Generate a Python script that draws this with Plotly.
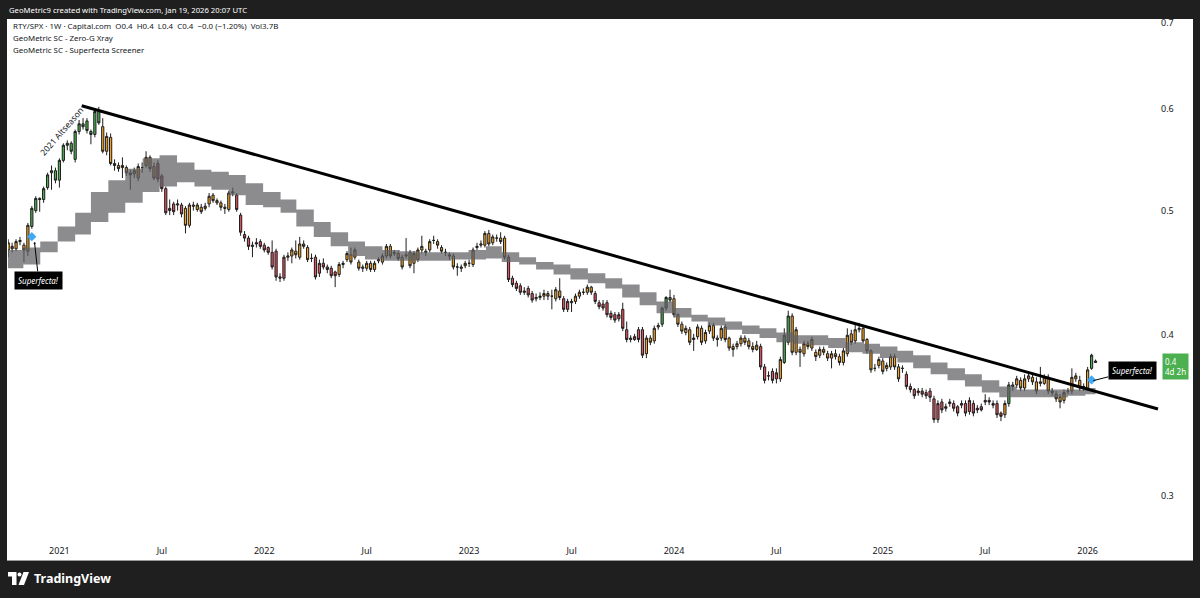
import numpy as np
import pandas as pd
import plotly.graph_objects as go

# ---------------- data (weekly RTY/SPX candles) ----------------
FIRST_WEEK = "2020-10-05"

opens = [
    0.466, 0.469, 0.467, 0.473, 0.470, 0.465, 0.486, 0.500, 0.511, 0.510,
    0.521, 0.535, 0.537, 0.528, 0.547, 0.562, 0.564, 0.548, 0.576, 0.584,
    0.587, 0.576, 0.573, 0.597, 0.581, 0.556, 0.570, 0.544, 0.542, 0.540,
    0.540, 0.535, 0.534, 0.530, 0.540, 0.542, 0.550, 0.541, 0.544, 0.532,
    0.520, 0.502, 0.506, 0.505, 0.505, 0.502, 0.487, 0.505, 0.501, 0.503,
    0.502, 0.506, 0.514, 0.509, 0.507, 0.503, 0.501, 0.516, 0.514, 0.496,
    0.479, 0.476, 0.470, 0.471, 0.473, 0.470, 0.468, 0.464, 0.465, 0.443,
    0.443, 0.460, 0.461, 0.465, 0.460, 0.471, 0.468, 0.459, 0.460, 0.447,
    0.455, 0.452, 0.451, 0.448, 0.446, 0.454, 0.458, 0.462, 0.460, 0.456,
    0.452, 0.451, 0.455, 0.450, 0.457, 0.456, 0.461, 0.469, 0.463, 0.463,
    0.460, 0.461, 0.464, 0.455, 0.458, 0.466, 0.465, 0.466, 0.474, 0.473,
    0.468, 0.464, 0.462, 0.461, 0.452, 0.452, 0.453, 0.455, 0.454, 0.468,
    0.470, 0.470, 0.480, 0.472, 0.476, 0.476, 0.476, 0.460, 0.443, 0.439,
    0.437, 0.433, 0.435, 0.431, 0.427, 0.428, 0.429, 0.431, 0.429, 0.427,
    0.433, 0.427, 0.419, 0.424, 0.425, 0.429, 0.432, 0.432, 0.436, 0.431,
    0.424, 0.423, 0.424, 0.416, 0.415, 0.412, 0.419, 0.404, 0.398, 0.397,
    0.404, 0.404, 0.387, 0.398, 0.396, 0.406, 0.408, 0.420, 0.428, 0.427,
    0.415, 0.408, 0.402, 0.404, 0.397, 0.399, 0.405, 0.396, 0.403, 0.407,
    0.398, 0.398, 0.406, 0.398, 0.392, 0.392, 0.394, 0.398, 0.396, 0.392,
    0.390, 0.392, 0.378, 0.372, 0.375, 0.370, 0.370, 0.381, 0.395, 0.414,
    0.388, 0.390, 0.387, 0.394, 0.391, 0.388, 0.386, 0.390, 0.387, 0.384,
    0.387, 0.385, 0.381, 0.387, 0.401, 0.396, 0.404, 0.405, 0.397, 0.389,
    0.377, 0.379, 0.382, 0.377, 0.378, 0.385, 0.378, 0.377, 0.373, 0.365,
    0.363, 0.361, 0.362, 0.361, 0.362, 0.357, 0.344, 0.355, 0.351, 0.354,
    0.354, 0.352, 0.353, 0.354, 0.349, 0.354, 0.350, 0.352, 0.355, 0.356,
    0.354, 0.354, 0.348, 0.347, 0.354, 0.366, 0.366, 0.369, 0.364, 0.370,
    0.371, 0.368, 0.367, 0.367, 0.371, 0.362, 0.360, 0.358, 0.356, 0.362,
    0.362, 0.370, 0.369, 0.364, 0.364, 0.377, 0.382,
]
highs = [
    0.475, 0.472, 0.475, 0.477, 0.472, 0.489, 0.504, 0.513, 0.512, 0.522,
    0.535, 0.542, 0.540, 0.549, 0.564, 0.567, 0.566, 0.578, 0.588, 0.590,
    0.590, 0.578, 0.600, 0.602, 0.590, 0.575, 0.574, 0.548, 0.545, 0.550,
    0.542, 0.538, 0.540, 0.544, 0.545, 0.556, 0.552, 0.545, 0.547, 0.534,
    0.522, 0.510, 0.508, 0.510, 0.507, 0.504, 0.507, 0.508, 0.507, 0.506,
    0.507, 0.516, 0.516, 0.511, 0.509, 0.506, 0.518, 0.521, 0.516, 0.498,
    0.482, 0.478, 0.473, 0.476, 0.475, 0.472, 0.469, 0.474, 0.467, 0.447,
    0.462, 0.464, 0.468, 0.474, 0.477, 0.474, 0.470, 0.463, 0.462, 0.458,
    0.459, 0.454, 0.453, 0.449, 0.456, 0.457, 0.465, 0.468, 0.468, 0.458,
    0.454, 0.457, 0.457, 0.457, 0.460, 0.463, 0.471, 0.471, 0.466, 0.465,
    0.462, 0.476, 0.466, 0.465, 0.468, 0.478, 0.467, 0.475, 0.478, 0.475,
    0.470, 0.467, 0.464, 0.463, 0.455, 0.454, 0.457, 0.458, 0.468, 0.472,
    0.474, 0.482, 0.483, 0.479, 0.479, 0.481, 0.478, 0.462, 0.445, 0.441,
    0.439, 0.436, 0.437, 0.433, 0.431, 0.432, 0.434, 0.433, 0.434, 0.436,
    0.443, 0.429, 0.427, 0.427, 0.431, 0.434, 0.435, 0.438, 0.437, 0.433,
    0.426, 0.426, 0.426, 0.418, 0.417, 0.417, 0.424, 0.410, 0.400, 0.401,
    0.406, 0.406, 0.400, 0.400, 0.407, 0.409, 0.421, 0.429, 0.434, 0.430,
    0.416, 0.410, 0.407, 0.406, 0.401, 0.408, 0.407, 0.404, 0.409, 0.409,
    0.400, 0.407, 0.408, 0.399, 0.394, 0.396, 0.400, 0.400, 0.398, 0.395,
    0.396, 0.394, 0.380, 0.375, 0.377, 0.377, 0.385, 0.405, 0.418, 0.416,
    0.406, 0.392, 0.396, 0.396, 0.399, 0.390, 0.392, 0.392, 0.389, 0.389,
    0.390, 0.387, 0.391, 0.405, 0.404, 0.408, 0.409, 0.407, 0.398, 0.390,
    0.380, 0.385, 0.384, 0.381, 0.387, 0.387, 0.380, 0.379, 0.375, 0.367,
    0.364, 0.364, 0.364, 0.363, 0.364, 0.359, 0.356, 0.357, 0.354, 0.357,
    0.356, 0.353, 0.356, 0.356, 0.358, 0.356, 0.353, 0.354, 0.360, 0.358,
    0.356, 0.356, 0.349, 0.356, 0.368, 0.368, 0.372, 0.371, 0.373, 0.374,
    0.373, 0.371, 0.378, 0.373, 0.373, 0.364, 0.362, 0.360, 0.363, 0.364,
    0.377, 0.374, 0.372, 0.367, 0.378, 0.387, 0.383,
]
lows = [
    0.460, 0.464, 0.465, 0.470, 0.456, 0.461, 0.484, 0.498, 0.499, 0.507,
    0.519, 0.519, 0.525, 0.521, 0.545, 0.557, 0.553, 0.545, 0.573, 0.578,
    0.574, 0.563, 0.570, 0.583, 0.554, 0.552, 0.542, 0.537, 0.536, 0.530,
    0.532, 0.519, 0.530, 0.527, 0.535, 0.540, 0.536, 0.528, 0.526, 0.517,
    0.496, 0.496, 0.496, 0.500, 0.494, 0.480, 0.485, 0.500, 0.499, 0.497,
    0.500, 0.503, 0.507, 0.505, 0.500, 0.497, 0.499, 0.513, 0.499, 0.478,
    0.473, 0.466, 0.460, 0.468, 0.467, 0.464, 0.462, 0.450, 0.441, 0.440,
    0.441, 0.457, 0.455, 0.459, 0.458, 0.467, 0.456, 0.456, 0.442, 0.444,
    0.450, 0.447, 0.443, 0.436, 0.444, 0.451, 0.456, 0.454, 0.458, 0.449,
    0.448, 0.449, 0.448, 0.448, 0.455, 0.454, 0.459, 0.459, 0.461, 0.457,
    0.450, 0.459, 0.451, 0.447, 0.456, 0.463, 0.461, 0.464, 0.471, 0.467,
    0.463, 0.461, 0.458, 0.450, 0.445, 0.448, 0.451, 0.452, 0.452, 0.466,
    0.468, 0.468, 0.469, 0.470, 0.473, 0.471, 0.458, 0.440, 0.436, 0.433,
    0.430, 0.430, 0.428, 0.424, 0.425, 0.426, 0.426, 0.426, 0.419, 0.425,
    0.426, 0.417, 0.417, 0.417, 0.423, 0.427, 0.430, 0.430, 0.430, 0.423,
    0.419, 0.418, 0.413, 0.411, 0.409, 0.410, 0.403, 0.395, 0.395, 0.396,
    0.395, 0.384, 0.384, 0.393, 0.394, 0.404, 0.406, 0.418, 0.424, 0.413,
    0.406, 0.401, 0.400, 0.393, 0.389, 0.397, 0.393, 0.394, 0.401, 0.396,
    0.392, 0.396, 0.395, 0.389, 0.385, 0.390, 0.392, 0.393, 0.390, 0.388,
    0.389, 0.376, 0.367, 0.369, 0.367, 0.367, 0.368, 0.380, 0.393, 0.386,
    0.386, 0.378, 0.385, 0.390, 0.389, 0.382, 0.384, 0.386, 0.382, 0.377,
    0.383, 0.379, 0.379, 0.385, 0.393, 0.394, 0.402, 0.394, 0.387, 0.374,
    0.375, 0.377, 0.373, 0.375, 0.376, 0.376, 0.368, 0.374, 0.363, 0.361,
    0.357, 0.359, 0.358, 0.357, 0.355, 0.342, 0.342, 0.348, 0.349, 0.352,
    0.349, 0.346, 0.351, 0.346, 0.347, 0.346, 0.348, 0.349, 0.353, 0.353,
    0.351, 0.345, 0.343, 0.345, 0.352, 0.362, 0.364, 0.362, 0.362, 0.368,
    0.366, 0.360, 0.365, 0.366, 0.360, 0.359, 0.355, 0.351, 0.354, 0.360,
    0.360, 0.368, 0.362, 0.362, 0.362, 0.376, 0.381,
]
closes = [
    0.472, 0.467, 0.473, 0.474, 0.466, 0.487, 0.502, 0.511, 0.510, 0.520,
    0.533, 0.537, 0.528, 0.547, 0.562, 0.564, 0.556, 0.576, 0.584, 0.581,
    0.577, 0.573, 0.597, 0.585, 0.556, 0.571, 0.544, 0.542, 0.539, 0.542,
    0.535, 0.533, 0.537, 0.541, 0.540, 0.550, 0.539, 0.530, 0.529, 0.520,
    0.498, 0.500, 0.499, 0.506, 0.497, 0.487, 0.505, 0.504, 0.505, 0.499,
    0.504, 0.513, 0.509, 0.507, 0.503, 0.502, 0.516, 0.517, 0.501, 0.481,
    0.476, 0.469, 0.469, 0.472, 0.469, 0.466, 0.464, 0.452, 0.444, 0.444,
    0.460, 0.461, 0.466, 0.462, 0.471, 0.469, 0.458, 0.459, 0.444, 0.455,
    0.452, 0.450, 0.445, 0.445, 0.454, 0.455, 0.463, 0.456, 0.466, 0.451,
    0.451, 0.455, 0.450, 0.455, 0.458, 0.461, 0.469, 0.461, 0.464, 0.459,
    0.452, 0.462, 0.453, 0.463, 0.466, 0.469, 0.464, 0.473, 0.474, 0.470,
    0.465, 0.464, 0.461, 0.452, 0.452, 0.451, 0.455, 0.455, 0.466, 0.469,
    0.471, 0.480, 0.471, 0.477, 0.476, 0.473, 0.460, 0.442, 0.438, 0.435,
    0.432, 0.432, 0.430, 0.426, 0.428, 0.429, 0.431, 0.429, 0.429, 0.434,
    0.428, 0.419, 0.425, 0.425, 0.429, 0.432, 0.432, 0.436, 0.432, 0.425,
    0.421, 0.420, 0.415, 0.413, 0.411, 0.415, 0.405, 0.397, 0.397, 0.399,
    0.397, 0.386, 0.398, 0.395, 0.405, 0.407, 0.420, 0.428, 0.426, 0.415,
    0.408, 0.403, 0.405, 0.395, 0.398, 0.406, 0.395, 0.402, 0.407, 0.398,
    0.397, 0.405, 0.397, 0.391, 0.390, 0.394, 0.398, 0.395, 0.392, 0.390,
    0.393, 0.378, 0.369, 0.372, 0.369, 0.374, 0.383, 0.400, 0.414, 0.388,
    0.404, 0.388, 0.394, 0.392, 0.397, 0.385, 0.390, 0.388, 0.384, 0.387,
    0.385, 0.381, 0.389, 0.400, 0.395, 0.404, 0.405, 0.396, 0.389, 0.376,
    0.377, 0.383, 0.375, 0.379, 0.385, 0.378, 0.370, 0.377, 0.365, 0.363,
    0.359, 0.362, 0.360, 0.359, 0.358, 0.344, 0.354, 0.350, 0.352, 0.355,
    0.351, 0.348, 0.354, 0.348, 0.356, 0.348, 0.351, 0.350, 0.356, 0.355,
    0.353, 0.347, 0.346, 0.354, 0.366, 0.365, 0.370, 0.364, 0.370, 0.372,
    0.368, 0.362, 0.368, 0.371, 0.362, 0.361, 0.357, 0.355, 0.361, 0.362,
    0.371, 0.372, 0.364, 0.365, 0.376, 0.386, 0.381,
]
# indicator state that colours each candle: g = bullish, o = neutral, r = bearish
candle_state = (
    "oooooo" "gggggggggggggggggg" "oooooooooooooo" "rrrrrrr" "ooooo"
    "oooooooo" "rrrrrrrrrrrrr" "ooooooo" "rrrrrr" "oooooooooooooooo"
    "ooooooooooooooooooooooooooo" "rrrrrrr" "ooooooo" "rrr" "ooooo" "r"
    "rrrrrrrrrrrr" "oooo" "ggg" "oooooooooooooooooooooo" "rrrrr" "o" "gg" "o"
    "oooooooooooooooooooooooooooo" "rrrrrrrrrrrrrrrrrrrrrr"
    "rrr" "o" "g" "oooooooooooooooooooo" "gg"
)

# Zero-G Xray cloud (monthly steps)
cloud_start_month = "2020-10-01"
cloud_upper = [
    0.466, 0.468, 0.473, 0.486, 0.498, 0.517, 0.528, 0.539, 0.549, 0.552,
    0.545, 0.538, 0.536, 0.533, 0.525, 0.517, 0.510, 0.501, 0.490, 0.481,
    0.473, 0.469, 0.466, 0.465, 0.464, 0.464, 0.464, 0.466, 0.469, 0.464,
    0.460, 0.456, 0.454, 0.451, 0.447, 0.443, 0.438, 0.432, 0.425, 0.420,
    0.415, 0.413, 0.410, 0.407, 0.405, 0.402, 0.400, 0.400, 0.398, 0.395,
    0.394, 0.392, 0.389, 0.386, 0.381, 0.377, 0.373, 0.369, 0.365, 0.363,
    0.363, 0.363, 0.363, 0.364,
]
cloud_lower = [
    0.451, 0.454, 0.464, 0.473, 0.479, 0.490, 0.498, 0.507, 0.517, 0.522,
    0.526, 0.522, 0.519, 0.514, 0.505, 0.503, 0.498, 0.486, 0.477, 0.469,
    0.461, 0.458, 0.457, 0.457, 0.457, 0.457, 0.458, 0.458, 0.459, 0.456,
    0.454, 0.450, 0.446, 0.442, 0.439, 0.435, 0.428, 0.422, 0.416, 0.413,
    0.410, 0.407, 0.404, 0.401, 0.398, 0.395, 0.394, 0.393, 0.391, 0.388,
    0.387, 0.384, 0.381, 0.377, 0.373, 0.369, 0.365, 0.361, 0.358, 0.358,
    0.358, 0.358, 0.359, 0.360,
]
cloud_end = "2026-01-19"

trend_dates = ["2021-02-12 14:00", "2026-05-10"]
trend_values = [0.6032, 0.3506]

signal_dates = ["2020-11-16", "2026-01-12"]
signal_values = [0.4772, 0.3693]

x_tickvals = ["2021-01-04", "2021-07-05", "2022-01-03", "2022-07-04", "2023-01-02",
              "2023-07-03", "2024-01-01", "2024-07-01", "2025-01-06", "2025-07-07",
              "2026-01-05"]
x_ticktext = ["2021", "Jul", "2022", "Jul", "2023", "Jul", "2024", "Jul", "2025", "Jul", "2026"]
y_tickvals = [0.3, 0.4, 0.5, 0.6, 0.7]
y_ticktext = ["0.3", "0.4", "0.5", "0.6", "0.7"]

# ---------------- figure ----------------
W, H = 1200, 598
ML, MR, MT, MB = 8, 40, 19, 58
PW, PH = W - ML - MR, H - MT - MB


def px(x):
    return (x - ML) / PW


def py(y):
    return (H - MB - y) / PH


n = len(closes)
assert len(opens) == len(highs) == len(lows) == n == len(candle_state)
dates = pd.date_range(FIRST_WEEK, periods=n, freq="7D")

COL = {"g": "#4caf50", "o": "#f3a224", "r": "#e0505f"}
OUTLINE = "#1e1e1e"
BG_DARK = "#1f1f1f"
TXT = "#131722"
FONT = "Noto Sans"

fig = go.Figure()
for s in ["o", "r", "g"]:
    idx = [i for i in range(n) if candle_state[i] == s]
    fig.add_trace(go.Candlestick(
        x=dates[idx],
        open=[opens[i] for i in idx], high=[highs[i] for i in idx],
        low=[lows[i] for i in idx], close=[closes[i] for i in idx],
        increasing=dict(fillcolor=COL[s], line=dict(color=OUTLINE, width=1)),
        decreasing=dict(fillcolor=COL[s], line=dict(color=OUTLINE, width=1)),
        whiskerwidth=0, hoverinfo="skip", showlegend=False,
    ))

cloud_x = list(pd.date_range(cloud_start_month, periods=len(cloud_upper), freq="MS")) + [pd.Timestamp(cloud_end)]
fig.add_trace(go.Scatter(x=cloud_x, y=cloud_lower + [cloud_lower[-1]], mode="lines",
                         line=dict(width=0, shape="hv"), hoverinfo="skip", showlegend=False))
fig.add_trace(go.Scatter(x=cloud_x, y=cloud_upper + [cloud_upper[-1]], mode="lines",
                         line=dict(width=0, shape="hv"), fill="tonexty",
                         fillcolor="rgba(95,95,100,0.72)", hoverinfo="skip", showlegend=False))

fig.add_trace(go.Scatter(x=trend_dates, y=trend_values, mode="lines",
                         line=dict(color="#000000", width=3), hoverinfo="skip", showlegend=False))

fig.add_trace(go.Scatter(x=signal_dates, y=signal_values, mode="markers",
                         marker=dict(symbol="diamond", size=7, color="#3fa9f5",
                                     line=dict(width=0)),
                         hoverinfo="skip", showlegend=False))

ann = []
ann.append(dict(xref="paper", yref="paper", x=px(7), y=py(9.5), xanchor="left", yanchor="middle",
                text="GeoMetric9 created with TradingView.com, Jan 19, 2026 20:07 UTC",
                showarrow=False, font=dict(family=FONT, size=7.7, color="#ffffff")))
legend_lines = ["RTY/SPX · 1W · Capital.com  O0.4  H0.4  L0.4  C0.4  −0.0 (−1.20%)  Vol3.7B",
                "GeoMetric SC - Zero-G Xray",
                "GeoMetric SC - Superfecta Screener"]
for t, yy in zip(legend_lines, [25.5, 38, 50]):
    ann.append(dict(xref="paper", yref="paper", x=px(11), y=py(yy), xanchor="left", yanchor="middle",
                    text=t, showarrow=False, font=dict(family=FONT, size=7.9, color=TXT)))
ann.append(dict(xref="paper", yref="paper", x=px(61), y=py(131), xanchor="center", yanchor="middle",
                text="2021 Altseason", textangle=-49, showarrow=False,
                font=dict(family=FONT, size=8.5, color=TXT)))
ann.append(dict(x="2020-11-21", y=np.log10(0.4716), text="<i>Superfecta!</i>", showarrow=True,
                ax=4, ay=37, arrowhead=6, arrowsize=0.5, arrowwidth=1, arrowcolor="#000",
                bgcolor="#000000", borderpad=3, font=dict(family=FONT, size=8, color="#ffffff")))
ann.append(dict(x="2026-01-15", y=np.log10(0.3688), text="<i>Superfecta!</i>", showarrow=True,
                ax=39, ay=-10, arrowhead=0, arrowwidth=1, arrowcolor="#000",
                bgcolor="#000000", borderpad=3, font=dict(family=FONT, size=8, color="#ffffff")))
ann.append(dict(xref="paper", yref="paper", x=px(1162), y=py(366.5), xanchor="left", yanchor="middle",
                text="0.4<br>4d 2h", align="left", showarrow=False, bgcolor="#4caf50", borderpad=2,
                font=dict(family=FONT, size=8, color="#ffffff")))
ann.append(dict(xref="paper", yref="paper", x=px(32), y=py(578), xanchor="left", yanchor="middle",
                text="<b>TradingView</b>", showarrow=False,
                font=dict(family=FONT, size=12.5, color="#ffffff")))

shapes = []
shapes.append(dict(type="rect", xref="paper", yref="paper", x0=px(7), x1=px(1193), y0=py(561), y1=py(19),
                   fillcolor="#ffffff", line=dict(width=0), layer="below"))
shapes.append(dict(type="line", xref="paper", yref="paper", x0=px(7), x1=px(1193), y0=py(560.5), y1=py(560.5),
                   line=dict(color="#9a9a9a", width=1), layer="above"))


def poly(pts):
    return "M " + " L ".join(f"{px(a)},{py(b)}" for a, b in pts) + " Z"


shapes.append(dict(type="path", xref="paper", yref="paper",
                   path=poly([(8, 572), (16.5, 572), (16.5, 585), (12, 585), (12, 576.5), (8, 576.5)]),
                   fillcolor="#ffffff", line=dict(width=0)))
shapes.append(dict(type="circle", xref="paper", yref="paper", x0=px(17.5), x1=px(21.5), y0=py(576.5), y1=py(572.5),
                   fillcolor="#ffffff", line=dict(width=0)))
shapes.append(dict(type="path", xref="paper", yref="paper",
                   path=poly([(23.5, 572), (29, 572), (24, 585), (18.5, 585)]),
                   fillcolor="#ffffff", line=dict(width=0)))

x_left = pd.Timestamp("2021-01-04") + pd.Timedelta(days=(ML - 59.4) / 0.5628)
x_right = pd.Timestamp("2021-01-04") + pd.Timedelta(days=(W - MR - 59.4) / 0.5628)

fig.update_layout(
    width=W, height=H, margin=dict(l=ML, r=MR, t=MT, b=MB),
    paper_bgcolor=BG_DARK, plot_bgcolor="#ffffff",
    showlegend=False, boxgap=0.2, hovermode=False,
    annotations=ann, shapes=shapes,
    xaxis=dict(type="date", range=[x_left, x_right], rangeslider=dict(visible=False),
               tickvals=x_tickvals, ticktext=x_ticktext, showgrid=False, zeroline=False,
               showline=False, ticks="", ticklabelstandoff=4,
               tickfont=dict(family=FONT, size=9, color=TXT)),
    yaxis=dict(type="log", side="right", range=[np.log10(0.2773), np.log10(0.7045)],
               tickvals=y_tickvals, ticktext=y_ticktext, showgrid=False, zeroline=False,
               showline=False, ticks="", tickfont=dict(family=FONT, size=9, color=TXT)),
)

fig.write_html(
    "out.html",
    config={"displayModeBar": False, "staticPlot": True},
    post_script="document.body.style.margin='0';document.body.style.padding='0';"
                "document.body.style.overflow='hidden';document.body.style.background='#1f1f1f';",
)
